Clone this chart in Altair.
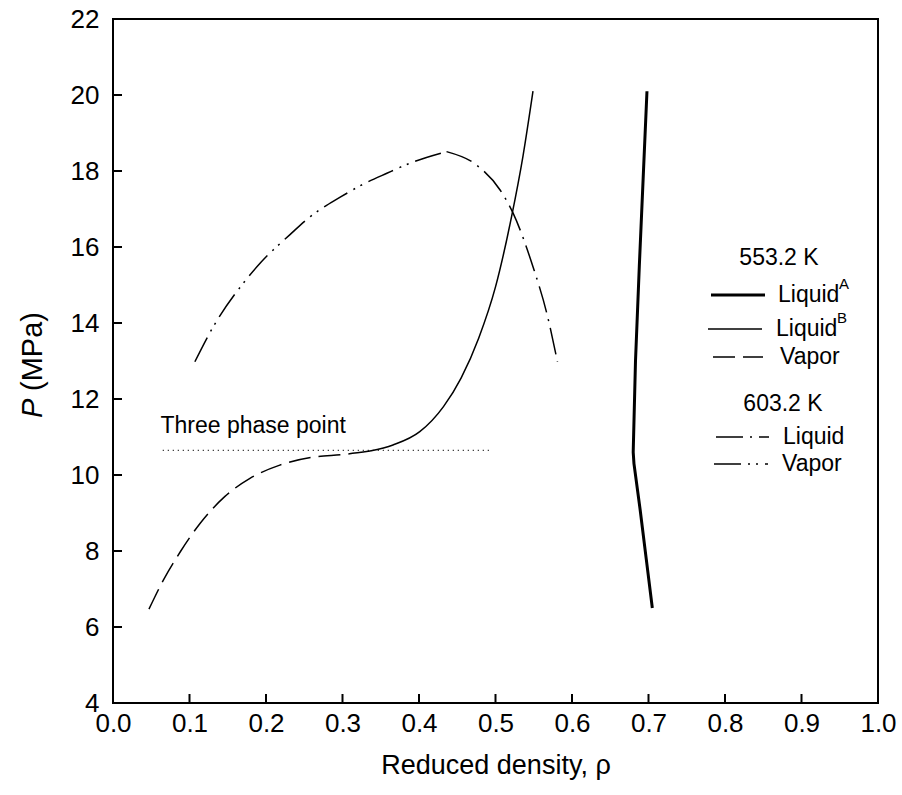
import altair as alt
import pandas as pd

# ---- data -------------------------------------------------------------
# 553.2 K vapor branch
vap553_rho = [0.047, 0.066, 0.088, 0.114, 0.146, 0.179, 0.218, 0.262, 0.301, 0.336]
vap553_p = [6.47, 7.24, 7.98, 8.73, 9.43, 9.91, 10.26, 10.47, 10.54, 10.63]

# 553.2 K liquid B branch
liqB_rho = [0.336, 0.366, 0.401, 0.432, 0.455, 0.478, 0.500, 0.521, 0.536, 0.549]
liqB_p = [10.63, 10.79, 11.14, 11.80, 12.55, 13.60, 14.95, 16.80, 18.40, 20.10]

# 553.2 K liquid A branch
liqA_rho = [0.705, 0.697, 0.689, 0.681, 0.680, 0.683, 0.688, 0.693, 0.698]
liqA_p = [6.5, 7.8, 9.1, 10.3, 10.6, 13.0, 15.5, 17.8, 20.1]

# 603.2 K vapor branch
vap603_rho = [0.107, 0.131, 0.170, 0.194, 0.231, 0.258, 0.297, 0.323, 0.358, 0.390, 0.436]
vap603_p = [12.98, 13.90, 15.04, 15.61, 16.32, 16.80, 17.31, 17.61, 17.94, 18.22, 18.51]

# 603.2 K liquid branch
liq603_rho = [0.436, 0.475, 0.506, 0.523, 0.549, 0.567, 0.581]
liq603_p = [18.51, 18.16, 17.50, 16.89, 15.48, 14.26, 12.98]

# three phase pressure line
tpp_rho = [0.065, 0.495]
tpp_p = [10.65, 10.65]

x_ticks = [0.0, 0.1, 0.2, 0.3, 0.4, 0.5, 0.6, 0.7, 0.8, 0.9, 1.0]
y_ticks = [4, 6, 8, 10, 12, 14, 16, 18, 20, 22]

# ---- layout -----------------------------------------------------------
W, H = 765, 684
FONT = "Liberation Sans"

X = alt.X(
    "rho:Q",
    scale=alt.Scale(domain=[0, 1], nice=False, zero=False),
    axis=alt.Axis(values=x_ticks, format=".1f", ticks=False, domain=False, grid=False,
                  labelFontSize=26, labelPadding=7, labelColor="black",
                  title="Reduced density, ρ", titleFontSize=27, titleFontWeight="normal",
                  titlePadding=16, titleColor="black", labelFlush=False),
)
Y = alt.Y(
    "p:Q",
    scale=alt.Scale(domain=[4, 22], nice=False, zero=False),
    axis=alt.Axis(values=y_ticks, ticks=False, domain=False, grid=False,
                  labelFontSize=26, labelPadding=14, labelColor="black",
                  title=None, labelFlush=False),
)


def frame(rho, p):
    return pd.DataFrame({"rho": rho, "p": p, "i": list(range(len(rho)))})


def curve(rho, p, width=1.5, dash=None, interp="monotone"):
    props = dict(color="black", strokeWidth=width, interpolate=interp, clip=True)
    if dash:
        props["strokeDash"] = dash
    return alt.Chart(frame(rho, p)).mark_line(**props).encode(x=X, y=Y, order="i:Q")


def label(text, x, y, size=23, align="left", baseline="middle", style="normal", angle=0):
    props = dict(font=FONT, fontSize=size, align=align, baseline=baseline,
                 fontStyle=style, color="black")
    if angle:
        props["angle"] = angle
    return alt.Chart(pd.DataFrame({"t": [text]})).mark_text(**props).encode(
        text="t:N", x=alt.value(x), y=alt.value(y))


def sample(x1, x2, y, width=1.5, dash=None):
    props = dict(color="black", strokeWidth=width)
    if dash:
        props["strokeDash"] = dash
    return alt.Chart(pd.DataFrame({"t": [0]})).mark_rule(**props).encode(
        x=alt.value(x1), x2=alt.value(x2), y=alt.value(y))


DASH_VAP553 = [22, 8]
DASH_LIQ603 = [27, 7, 2, 7]
DASH_VAP603 = [27, 7, 2, 6, 2, 7]

layers = [
    curve(vap553_rho, vap553_p, dash=DASH_VAP553),
    curve(liqB_rho, liqB_p),
    curve(liqA_rho, liqA_p, width=3, interp="linear"),
    curve(vap603_rho, vap603_p, dash=DASH_VAP603),
    curve(liq603_rho, liq603_p, dash=DASH_LIQ603),
    alt.Chart(frame(tpp_rho, tpp_p)).mark_line(color="black", strokeWidth=1,
                                                strokeDash=[1.2, 3.8]).encode(x=X, y=Y),
    alt.Chart(pd.DataFrame({"rho": [0.062], "p": [11.1], "t": ["Three phase point"]}))
    .mark_text(font=FONT, fontSize=23, align="left", baseline="alphabetic", color="black")
    .encode(x=X, y=Y, text="t:N"),
    # inward tick marks
    alt.Chart(pd.DataFrame({"rho": x_ticks})).mark_rule(color="black", strokeWidth=2)
    .encode(x=X, y=alt.value(H), y2=alt.value(H - 9)),
    alt.Chart(pd.DataFrame({"p": y_ticks})).mark_rule(color="black", strokeWidth=2)
    .encode(y=Y, x=alt.value(0), x2=alt.value(9)),
    # y-axis title with italic P
    label("P", -80, 399, size=29, style="italic", angle=270),
    label("(MPa)", -80, 372, size=29, angle=270),
    # legend
    label("553.2 K", 666, 239, align="center"),
    sample(598, 652, 276, width=3),
    label("Liquid", 665, 276),
    label("A", 726, 265, size=15),
    sample(595, 649, 310),
    label("Liquid", 663, 310),
    label("B", 724, 299, size=15),
    sample(600, 650, 338, dash=DASH_VAP553),
    label("Vapor", 667, 338),
    label("603.2 K", 670, 385, align="center"),
    sample(603, 656, 418, dash=DASH_LIQ603),
    label("Liquid", 670, 418),
    sample(601, 655, 445, dash=DASH_VAP603),
    label("Vapor", 669, 445),
]

chart = (
    alt.layer(*layers)
    .properties(width=W, height=H, autosize="none", background="white",
                padding={"left": 113, "top": 19, "right": 24, "bottom": 92})
    .configure_view(stroke="black", strokeWidth=2)
    .configure_axis(labelFont=FONT, titleFont=FONT)
)

chart.save("out.html", embed_options={"renderer": "svg", "actions": False})
